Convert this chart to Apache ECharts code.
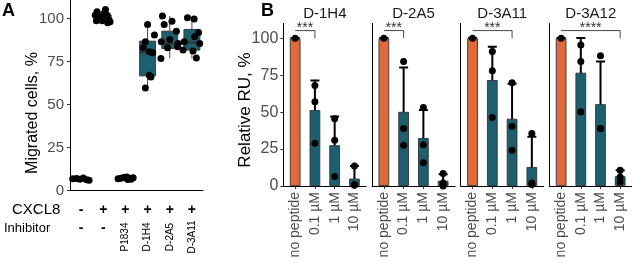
<!DOCTYPE html>
<html>
<head>
<meta charset="utf-8">
<script src="https://cdn.jsdelivr.net/npm/echarts@6/dist/echarts.min.js"></script>
<style>
html, body { margin: 0; padding: 0; background: #fff; }
#main { width: 632px; height: 265px; }
</style>
</head>
<body>
<div id="main"></div>
<script>
// ---- panel A: migration assay ----
var groupsA = ['ctrl', 'CXCL8', 'P1834', 'D-1H4', 'D-2A5', 'D-3A11'];
var cxcl8Row = ['-', '+', '+', '+', '+', '+'];
var inhibitorRow = ['-', '-', 'P1834', 'D-1H4', 'D-2A5', 'D-3A11'];
// [min, q1, median, q3, max]
var boxA = [
    [5.9, 6.4, 6.8, 7.1, 7.3],
    [97.5, 98.6, 100.2, 101.9, 105.2],
    [6.4, 6.8, 7.15, 7.5, 7.8],
    [59.8, 66.6, 80.2, 86.8, 96.5],
    [76.7, 82.5, 85.4, 92.6, 101.4],
    [76.7, 81.6, 86.0, 93.6, 100.6]
];
var ptsA = [
    [6.8, 7.0, 6.5, 7.2, 6.3, 5.9],
    [101.9, 103.8, 100.9, 102.9, 105.2, 101.9, 99.0, 98.6, 98.6, 98.0, 97.5],
    [6.8, 7.1, 7.5, 7.8, 7.2, 6.6, 7.4, 6.4],
    [96.5, 90.3, 86.4, 82.9, 80.6, 80.0, 67.0, 66.0, 59.6],
    [101.4, 98.4, 96.5, 92.6, 87.8, 85.4, 86.4, 82.9, 83.5, 76.7],
    [100.4, 99.6, 91.8, 86.4, 89.3, 85.4, 81.6, 81.0, 77.0]
];
var jitA = [
    [-0.38, -0.2, -0.05, 0.1, 0.25, 0.36],
    [-0.36, -0.28, -0.15, 0.03, 0.1, 0.18, 0.26, -0.31, -0.05, 0.31, 0.2],
    [-0.33, -0.2, -0.08, 0.05, 0.15, 0.25, 0.35, 0.1],
    [0.0, 0.31, -0.1, -0.2, 0.08, 0.23, 0.08, 0.15, -0.1],
    [-0.33, 0.1, -0.25, 0.3, 0.0, 0.38, -0.38, -0.1, 0.35, -0.4],
    [-0.2, 0.1, 0.3, -0.35, 0.12, 0.35, -0.4, 0.05, 0.2]
];
var boxFill = ['#1d5f6f', '#e2693b', '#1d5f6f', '#1d5f6f', '#1d5f6f', '#1d5f6f'];

// ---- panel B: relative RU per peptide ----
var peptides = ['D-1H4', 'D-2A5', 'D-3A11', 'D-3A12'];
var doses = ['no peptide', '0.1 µM', '1 µM', '10 µM'];
var meanB = [
    [100, 51.4, 27.6, 5.0],
    [100, 50.2, 32.5, 3.5],
    [100, 71.7, 45.5, 12.9],
    [100, 76.7, 55.4, 6.6]
];
var sdB = [
    [0, 20.0, 19.5, 8.5],
    [0, 30.0, 19.0, 4.5],
    [0, 22.5, 23.7, 20.5],
    [0, 23.5, 28.8, 4.0]
];
var ptsB = [
    [[100], [68, 57, 29], [45.5, 31, 6.5], [13.6, 1.0, 0.5]],
    [[100], [84.2, 38.9, 27.6], [53.2, 28, 15.8], [8.4, 2.0, 0]],
    [[100], [91, 78, 46.4], [69.9, 40.5, 24.2], [35.5, 2.0, 1.0]],
    [[100], [95.5, 84.2, 50.2], [88.2, 39, 39], [10.6, 6.1, 2.7]]
];
// [from dose, to dose, bracket height, leg end]
var sigB = [[0, 1, 105.2, 100], [0, 1, 105.2, 100], [0, 2, 105.2, 100], [0, 3, 105.2, 100]];
var sigText = ['***', '***', '***', '****'];
var barColors = ['#e2693b', '#1d5f6f', '#1d5f6f', '#1d5f6f'];
var yTicks = [0, 25, 50, 75, 100];

var fam = "'Liberation Sans', Arial, Helvetica, sans-serif";
var facetLeft = [283.3, 372, 460.7, 549.3];
var facetW = 83;

var chart = echarts.init(document.getElementById('main'));

var grids = [{ left: 70, top: 0, width: 133, height: 190.5 }];
var xAxes = [
    {
        type: 'category', gridIndex: 0, data: groupsA,
        axisLine: { onZero: false, lineStyle: { color: '#000', width: 1 } },
        axisTick: { alignWithLabel: true, length: 3, lineStyle: { color: '#333' } },
        axisLabel: { show: false }
    },
    // hidden axis used only to place the jittered points
    { type: 'value', gridIndex: 0, min: -0.5, max: 5.5, show: false }
];
var yAxes = [{
    type: 'value', gridIndex: 0, min: 0, max: 110.7,
    splitLine: { show: false },
    axisLine: { show: true, onZero: false, lineStyle: { color: '#000', width: 1 } },
    axisTick: { show: true, length: 3, customValues: yTicks, lineStyle: { color: '#333' } },
    axisLabel: { customValues: yTicks, fontSize: 15, color: '#4d4d4d', margin: 6, fontFamily: fam }
}];

var series = [];

// ggplot-like boxes (no whisker caps)
series.push({
    type: 'custom', xAxisIndex: 0, yAxisIndex: 0,
    data: boxA.map(function (b, i) { return [i].concat(b); }),
    renderItem: function (params, api) {
        var i = api.value(0);
        var w = api.size([1, 0])[0] * 0.72;
        var pMin = api.coord([i, api.value(1)]);
        var pQ1 = api.coord([i, api.value(2)]);
        var pMed = api.coord([i, api.value(3)]);
        var pQ3 = api.coord([i, api.value(4)]);
        var pMax = api.coord([i, api.value(5)]);
        var x = pQ1[0];
        var st = { stroke: '#333', lineWidth: 0.9 };
        return {
            type: 'group', children: [
                { type: 'line', shape: { x1: x, y1: pMin[1], x2: x, y2: pQ1[1] }, style: st },
                { type: 'line', shape: { x1: x, y1: pQ3[1], x2: x, y2: pMax[1] }, style: st },
                { type: 'rect', shape: { x: x - w / 2, y: pQ3[1], width: w, height: pQ1[1] - pQ3[1] },
                  style: { fill: boxFill[i], stroke: '#333', lineWidth: 0.9 } },
                { type: 'line', shape: { x1: x - w / 2, y1: pMed[1], x2: x + w / 2, y2: pMed[1] },
                  style: { stroke: '#333', lineWidth: 2 } }
            ]
        };
    }
});

var jitterData = [];
ptsA.forEach(function (vals, i) {
    vals.forEach(function (v, k) { jitterData.push([i + jitA[i][k], v]); });
});
series.push({
    type: 'scatter', xAxisIndex: 1, yAxisIndex: 0, data: jitterData,
    symbolSize: 7, itemStyle: { color: '#000', opacity: 1 }
});

peptides.forEach(function (p, f) {
    var xi = f + 2, yi = f + 1;
    grids.push({ left: facetLeft[f], top: 23.5, width: facetW, height: 162.5 });
    xAxes.push({
        type: 'value', gridIndex: f + 1, min: -0.6, max: 3.6,
        splitLine: { show: false },
        axisLine: { onZero: false, lineStyle: { color: '#000', width: 1 } },
        axisTick: { length: 3, customValues: [0, 1, 2, 3], lineStyle: { color: '#333' } },
        axisLabel: {
            customValues: [0, 1, 2, 3], rotate: 90, fontSize: 14, color: '#4d4d4d', margin: 6, fontFamily: fam,
            formatter: function (v) { return doses[Math.round(v)]; }
        }
    });
    yAxes.push({
        type: 'value', gridIndex: f + 1, min: 0, max: 110,
        splitLine: { show: false },
        axisLine: { show: true, onZero: false, lineStyle: { color: '#000', width: 1 } },
        axisTick: { show: f === 0, length: 3, customValues: yTicks, lineStyle: { color: '#333' } },
        axisLabel: { show: f === 0, customValues: yTicks, fontSize: 16, color: '#4d4d4d', margin: 5, fontFamily: fam }
    });

    series.push({
        type: 'bar', xAxisIndex: xi, yAxisIndex: yi, barWidth: 10.7,
        data: meanB[f].map(function (m, d) {
            return { value: [d, m], itemStyle: { color: barColors[d] } };
        }),
        itemStyle: { borderColor: '#333', borderWidth: 0.9 }
    });

    // mean ± sd, clipped at the panel like coord_cartesian
    series.push({
        type: 'custom', xAxisIndex: xi, yAxisIndex: yi, clip: true,
        data: meanB[f].map(function (m, d) { return [d, m - sdB[f][d], m + sdB[f][d]]; }),
        renderItem: function (params, api) {
            var a = api.coord([api.value(0), api.value(1)]);
            var b = api.coord([api.value(0), api.value(2)]);
            var w = 4.5;
            var st = { stroke: '#000', lineWidth: 2 };
            return {
                type: 'group', children: [
                    { type: 'line', shape: { x1: a[0], y1: a[1], x2: b[0], y2: b[1] }, style: st },
                    { type: 'line', shape: { x1: b[0] - w, y1: b[1], x2: b[0] + w, y2: b[1] }, style: st },
                    { type: 'line', shape: { x1: a[0] - w, y1: a[1], x2: a[0] + w, y2: a[1] }, style: st }
                ]
            };
        }
    });

    var pts = [];
    ptsB[f].forEach(function (vals, d) { vals.forEach(function (v) { pts.push([d, v]); }); });
    series.push({
        type: 'scatter', xAxisIndex: xi, yAxisIndex: yi, data: pts,
        symbolSize: 7, itemStyle: { color: '#000', opacity: 1 }
    });

    series.push({
        type: 'custom', xAxisIndex: xi, yAxisIndex: yi, clip: false,
        data: [sigB[f]],
        renderItem: function (params, api) {
            var l = api.coord([api.value(0), api.value(2)]);
            var r = api.coord([api.value(1), api.value(2)]);
            var leg = api.coord([api.value(1), api.value(3)]);
            return {
                type: 'group', children: [
                    { type: 'polyline', shape: { points: [l, r, leg] },
                      style: { stroke: '#333', lineWidth: 0.9, fill: null } },
                    { type: 'text', x: (l[0] + r[0]) / 2, y: l[1] + 4.5,
                      style: { text: sigText[f], font: '14px ' + fam, fill: '#333',
                               textAlign: 'center', textVerticalAlign: 'bottom' } }
                ]
            };
        }
    });
});

chart.setOption({
    animation: false,
    textStyle: { fontFamily: fam },
    grid: grids,
    xAxis: xAxes,
    yAxis: yAxes,
    series: series
});

// titles, axis names and the condition table under panel A
var g = [];
g.push({ type: 'text', left: 2, top: 2, style: { text: 'A', font: 'bold 18px ' + fam, fill: '#000' } });
g.push({ type: 'text', left: 261, top: 2, style: { text: 'B', font: 'bold 18px ' + fam, fill: '#000' } });
g.push({ type: 'text', x: 33, y: 113, rotation: Math.PI / 2,
         style: { text: 'Migrated cells, %', font: '16px ' + fam, fill: '#000', textAlign: 'center', textVerticalAlign: 'middle' } });
g.push({ type: 'text', x: 245, y: 110, rotation: Math.PI / 2,
         style: { text: 'Relative RU, %', font: '17px ' + fam, fill: '#000', textAlign: 'center', textVerticalAlign: 'middle' } });
peptides.forEach(function (p, f) {
    g.push({ type: 'text', x: facetLeft[f] + facetW / 2, y: 14,
             style: { text: p, font: '15px ' + fam, fill: '#1a1a1a', textAlign: 'center', textVerticalAlign: 'middle' } });
});
g.push({ type: 'text', x: 12, y: 210, style: { text: 'CXCL8', font: '15px ' + fam, fill: '#000', textVerticalAlign: 'middle' } });
g.push({ type: 'text', x: 4, y: 228.5, style: { text: 'Inhibitor', font: '13px ' + fam, fill: '#000', textVerticalAlign: 'middle' } });
groupsA.forEach(function (c, i) {
    var px = chart.convertToPixel({ xAxisIndex: 0 }, c);
    g.push({ type: 'text', x: px, y: 210,
             style: { text: cxcl8Row[i], font: 'bold 14px ' + fam, fill: '#000', textAlign: 'center', textVerticalAlign: 'middle' } });
    var lab = inhibitorRow[i];
    if (lab === '-') {
        g.push({ type: 'text', x: px, y: 228.5,
                 style: { text: lab, font: 'bold 14px ' + fam, fill: '#000', textAlign: 'center', textVerticalAlign: 'middle' } });
    } else {
        g.push({ type: 'text', x: px, y: 237, rotation: Math.PI / 2,
                 style: { text: lab, font: '10px ' + fam, fill: '#000', textAlign: 'center', textVerticalAlign: 'middle' } });
    }
});
chart.setOption({ graphic: g });
</script>
</body>
</html>
